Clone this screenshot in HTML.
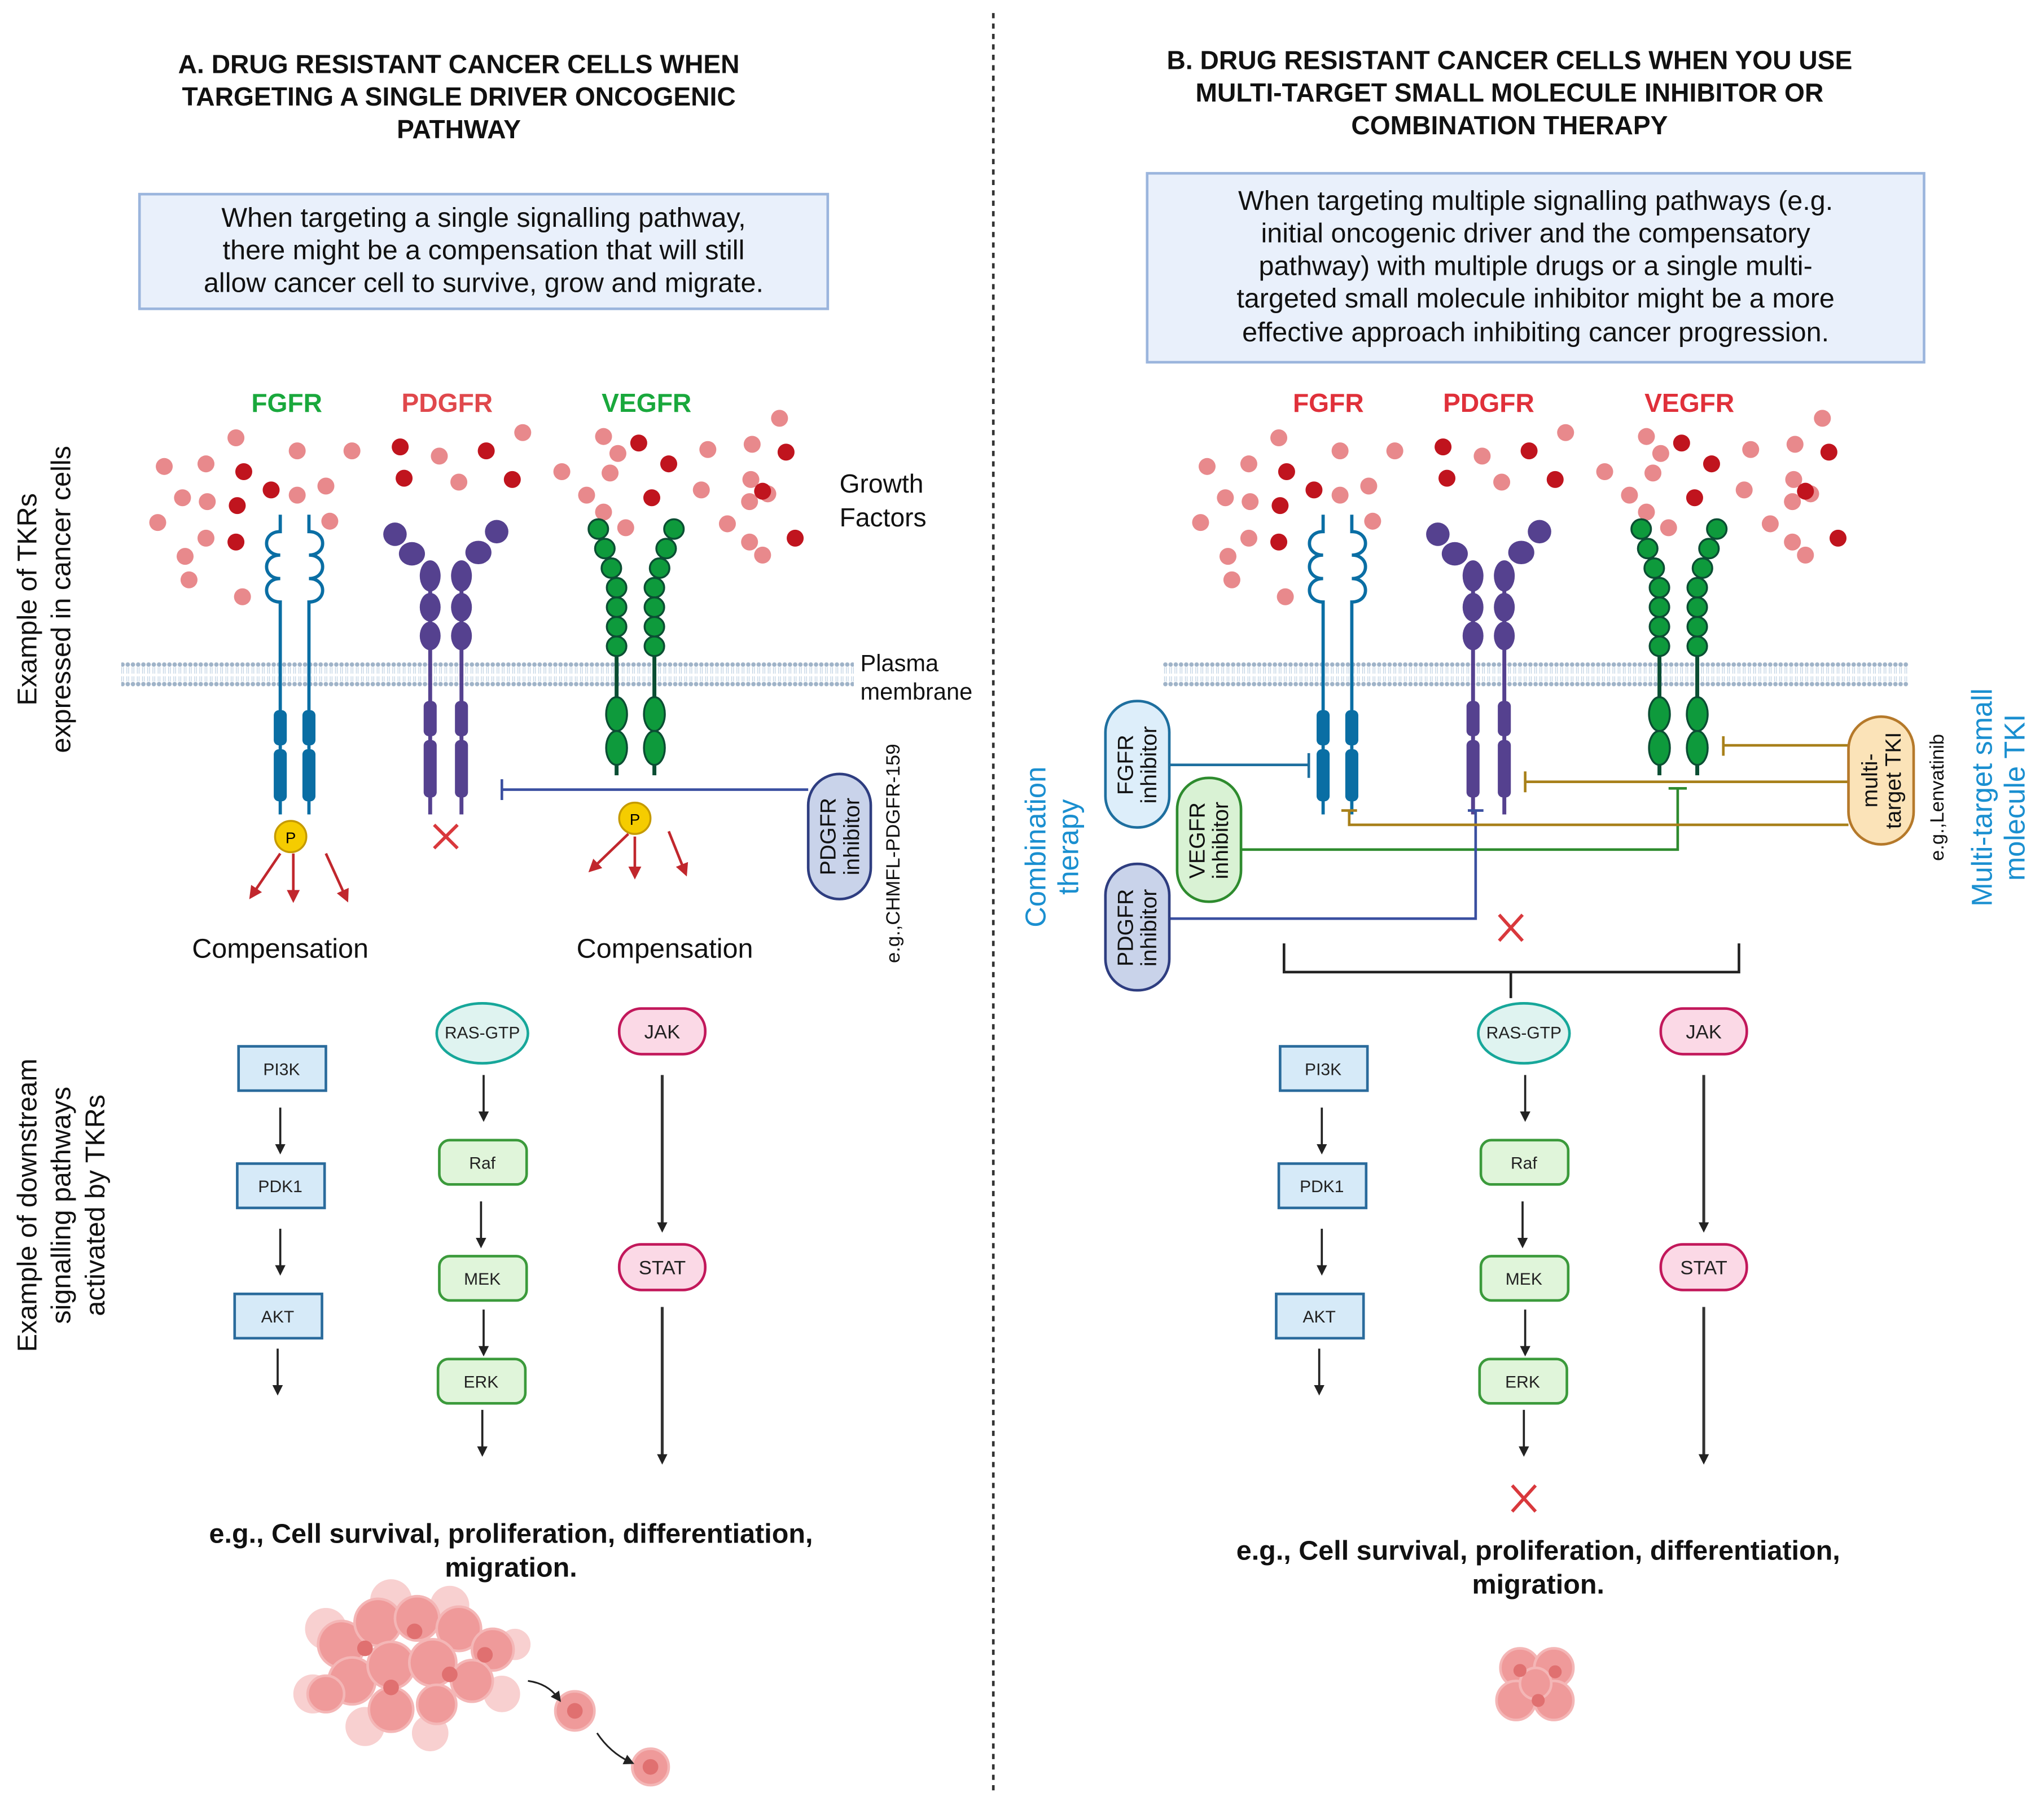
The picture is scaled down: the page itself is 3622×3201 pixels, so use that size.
<!DOCTYPE html>
<html><head><meta charset="utf-8"><style>
html,body{margin:0;padding:0;background:#fff}
svg{display:block}
text{font-family:"Liberation Sans",Arial,sans-serif}
</style></head><body>
<svg width="3622" height="3201" viewBox="0 0 1568 1386" preserveAspectRatio="none" xmlns="http://www.w3.org/2000/svg">
<defs>
<pattern id="mem" x="0" y="508" width="4" height="20" patternUnits="userSpaceOnUse">
<circle cx="2" cy="2" r="1.7" fill="#9fb3c8"/><circle cx="2" cy="17" r="1.7" fill="#9fb3c8"/>
<path d="M1.3 4 V9 M2.7 4 V9 M1.3 11 V15 M2.7 11 V15" stroke="#b9cde0" stroke-width="0.5"/>
</pattern>
<marker id="ah" markerWidth="8" markerHeight="8" refX="4" refY="4" orient="auto" markerUnits="userSpaceOnUse"><path d="M0 0 L8 4 L0 8 Z" fill="#222"/></marker>
<marker id="ar" markerWidth="10" markerHeight="10" refX="5" refY="5" orient="auto" markerUnits="userSpaceOnUse"><path d="M0 0 L10 5 L0 10 Z" fill="#c1272d"/></marker>
<g id="dots">
<g fill="#e8898c">
<circle cx="181" cy="336" r="6.5"/><circle cx="126" cy="358" r="6.5"/><circle cx="158" cy="356" r="6.5"/><circle cx="228" cy="346" r="6.5"/><circle cx="140" cy="382" r="6.5"/><circle cx="159" cy="385" r="6.5"/><circle cx="250" cy="373" r="6.5"/><circle cx="121" cy="401" r="6.5"/><circle cx="158" cy="413" r="6.5"/><circle cx="142" cy="427" r="6.5"/><circle cx="186" cy="458" r="6.5"/><circle cx="145" cy="445" r="6.5"/><circle cx="270" cy="346" r="6.5"/><circle cx="253" cy="400" r="6.5"/><circle cx="228" cy="380" r="6.5"/>
<circle cx="337" cy="350" r="6.5"/><circle cx="352" cy="370" r="6.5"/><circle cx="401" cy="332" r="6.5"/>
<circle cx="463" cy="335" r="6.5"/><circle cx="431" cy="362" r="6.5"/><circle cx="450" cy="380" r="6.5"/><circle cx="468" cy="363" r="6.5"/><circle cx="474" cy="348" r="6.5"/><circle cx="463" cy="393" r="6.5"/><circle cx="480" cy="405" r="6.5"/><circle cx="543" cy="345" r="6.5"/><circle cx="577" cy="341" r="6.5"/><circle cx="576" cy="368" r="6.5"/><circle cx="558" cy="402" r="6.5"/><circle cx="575" cy="385" r="6.5"/><circle cx="589" cy="379" r="6.5"/><circle cx="575" cy="416" r="6.5"/><circle cx="585" cy="426" r="6.5"/><circle cx="598" cy="321" r="6.5"/><circle cx="538" cy="376" r="6.5"/>
</g>
<g fill="#c0141e">
<circle cx="187" cy="362" r="6.5"/><circle cx="208" cy="376" r="6.5"/><circle cx="182" cy="388" r="6.5"/><circle cx="181" cy="416" r="6.5"/>
<circle cx="307" cy="343" r="6.5"/><circle cx="373" cy="346" r="6.5"/><circle cx="310" cy="367" r="6.5"/><circle cx="393" cy="368" r="6.5"/>
<circle cx="490" cy="340" r="6.5"/><circle cx="513" cy="356" r="6.5"/><circle cx="500" cy="382" r="6.5"/><circle cx="603" cy="347" r="6.5"/><circle cx="585" cy="377" r="6.5"/><circle cx="610" cy="413" r="6.5"/>
</g>
</g>
<g id="rec">
<g stroke="#0a6ea4" fill="none" stroke-width="2.5">
<path d="M215 395 V408 c-14 0 -14 18 0 18 c-14 0 -14 18 0 18 c-14 0 -14 18 0 18 V625"/>
<path d="M237 395 V408 c14 0 14 18 0 18 c14 0 14 18 0 18 c14 0 14 18 0 18 V625"/>
</g>
<g fill="#0a6ea4"><rect x="210" y="545" width="10" height="27" rx="4"/><rect x="210" y="575" width="10" height="40" rx="4"/><rect x="232" y="545" width="10" height="27" rx="4"/><rect x="232" y="575" width="10" height="40" rx="4"/></g>
<g fill="#55418f">
<path d="M330 450 V625 M354 450 V625" stroke="#55418f" stroke-width="3"/>
<ellipse cx="303" cy="410" rx="9" ry="9"/><ellipse cx="316" cy="425" rx="10" ry="9"/><ellipse cx="330" cy="442" rx="8" ry="12"/><ellipse cx="330" cy="466" rx="8" ry="11"/><ellipse cx="330" cy="488" rx="8" ry="11"/>
<ellipse cx="381" cy="408" rx="9" ry="9"/><ellipse cx="367" cy="424" rx="10" ry="9"/><ellipse cx="354" cy="442" rx="8" ry="12"/><ellipse cx="354" cy="466" rx="8" ry="11"/><ellipse cx="354" cy="488" rx="8" ry="11"/>
<rect x="325" y="538" width="10" height="27" rx="4"/><rect x="325" y="568" width="10" height="44" rx="4"/><rect x="349" y="538" width="10" height="27" rx="4"/><rect x="349" y="568" width="10" height="44" rx="4"/>
</g>
<g fill="#0e9a3c" stroke="#0b4e33" stroke-width="1.5">
<path d="M473 500 V595 M502 500 V595" stroke-width="3"/>
<circle cx="459" cy="406" r="7.5"/><circle cx="464" cy="421" r="7.5"/><circle cx="469" cy="436" r="7.5"/><circle cx="473" cy="451" r="7.5"/><circle cx="473" cy="466" r="7.5"/><circle cx="473" cy="481" r="7.5"/><circle cx="473" cy="496" r="7.5"/>
<circle cx="517" cy="406" r="7.5"/><circle cx="511" cy="421" r="7.5"/><circle cx="506" cy="436" r="7.5"/><circle cx="502" cy="451" r="7.5"/><circle cx="502" cy="466" r="7.5"/><circle cx="502" cy="481" r="7.5"/><circle cx="502" cy="496" r="7.5"/>
<ellipse cx="473" cy="548" rx="8" ry="13"/><ellipse cx="473" cy="574" rx="8" ry="13"/><ellipse cx="502" cy="548" rx="8" ry="13"/><ellipse cx="502" cy="574" rx="8" ry="13"/>
</g>
</g>
<g id="down">
<g font-size="13" text-anchor="middle" fill="#222">
<rect x="183" y="803" width="67" height="34" fill="#d6eaf8" stroke="#2a6b9c" stroke-width="2"/><text x="216" y="825">PI3K</text>
<rect x="182" y="893" width="67" height="34" fill="#d6eaf8" stroke="#2a6b9c" stroke-width="2"/><text x="215" y="915">PDK1</text>
<rect x="180" y="993" width="67" height="34" fill="#d6eaf8" stroke="#2a6b9c" stroke-width="2"/><text x="213" y="1015">AKT</text>
<ellipse cx="370" cy="793" rx="35" ry="23" fill="#dff3f0" stroke="#17a79a" stroke-width="2"/><text x="370" y="797">RAS-GTP</text>
<rect x="337" y="875" width="67" height="34" rx="8" fill="#e0f5da" stroke="#3b9a3b" stroke-width="2"/><text x="370" y="897">Raf</text>
<rect x="337" y="964" width="67" height="34" rx="8" fill="#e0f5da" stroke="#3b9a3b" stroke-width="2"/><text x="370" y="986">MEK</text>
<rect x="336" y="1043" width="67" height="34" rx="8" fill="#e0f5da" stroke="#3b9a3b" stroke-width="2"/><text x="369" y="1065">ERK</text>
<rect x="475" y="774" width="66" height="35" rx="17" fill="#fbd9e6" stroke="#c2185b" stroke-width="2"/><text x="508" y="797" font-size="15">JAK</text>
<rect x="475" y="955" width="66" height="35" rx="17" fill="#fbd9e6" stroke="#c2185b" stroke-width="2"/><text x="508" y="978" font-size="15">STAT</text>
</g>
<g stroke="#222" stroke-width="1.6" marker-end="url(#ah)">
<line x1="215" y1="850" x2="215" y2="882"/><line x1="215" y1="943" x2="215" y2="975"/><line x1="213" y1="1035" x2="213" y2="1067"/>
<line x1="371" y1="825" x2="371" y2="857"/><line x1="369" y1="922" x2="369" y2="954"/><line x1="371" y1="1005" x2="371" y2="1037"/><line x1="370" y1="1082" x2="370" y2="1114"/>
</g>
<g stroke="#333" stroke-width="2.2" marker-end="url(#ah)">
<line x1="508" y1="825" x2="508" y2="942"/><line x1="508" y1="1003" x2="508" y2="1120"/>
</g>
</g>
</defs>

<line x1="762" y1="10" x2="762" y2="1375" stroke="#333" stroke-width="2" stroke-dasharray="4,4"/>

<g font-weight="bold" font-size="20" text-anchor="middle" fill="#111">
<text x="352" y="56">A. DRUG RESISTANT CANCER CELLS WHEN</text>
<text x="352" y="81">TARGETING A SINGLE DRIVER ONCOGENIC</text>
<text x="352" y="106">PATHWAY</text>
<text x="1158" y="53">B. DRUG RESISTANT CANCER CELLS WHEN YOU USE</text>
<text x="1158" y="78">MULTI-TARGET SMALL MOLECULE INHIBITOR OR</text>
<text x="1158" y="103">COMBINATION THERAPY</text>
</g>
<rect x="107" y="149" width="528" height="88" fill="#e9f0fb" stroke="#9bb5dd" stroke-width="2"/>
<rect x="880" y="133" width="596" height="145" fill="#e9f0fb" stroke="#9bb5dd" stroke-width="2"/>
<g font-size="21" text-anchor="middle" fill="#111">
<text x="371" y="174">When targeting a single signalling pathway,</text>
<text x="371" y="199">there might be a compensation that will still</text>
<text x="371" y="224">allow cancer cell to survive, grow and migrate.</text>
<text x="1178" y="161">When targeting multiple signalling pathways (e.g.</text>
<text x="1178" y="186">initial oncogenic driver and the compensatory</text>
<text x="1178" y="211">pathway) with multiple drugs or a single multi-</text>
<text x="1178" y="236">targeted small molecule inhibitor might be a more</text>
<text x="1178" y="262">effective approach inhibiting cancer progression.</text>
</g>

<g font-weight="bold" font-size="20" text-anchor="middle">
<text x="220" y="316" fill="#19a83c">FGFR</text><text x="343" y="316" fill="#e0484c">PDGFR</text><text x="496" y="316" fill="#19a83c">VEGFR</text>
<text x="1019" y="316" fill="#e0303a">FGFR</text><text x="1142" y="316" fill="#e0303a">PDGFR</text><text x="1296" y="316" fill="#e0303a">VEGFR</text>
</g>
<g font-size="20" fill="#111"><text x="644" y="378">Growth</text><text x="644" y="404">Factors</text>
<text x="660" y="515" font-size="18">Plasma</text><text x="660" y="537" font-size="18">membrane</text></g>

<use href="#dots"/>
<g transform="translate(800,0)"><use href="#dots"/></g>
<rect x="93" y="508" width="562" height="20" fill="url(#mem)"/>
<rect x="892" y="508" width="572" height="20" fill="url(#mem)"/>
<use href="#rec"/>
<g transform="translate(800,0)"><use href="#rec"/></g>

<g stroke="#c1272d" stroke-width="2" marker-end="url(#ar)">
<line x1="215" y1="655" x2="194" y2="686"/><line x1="225" y1="655" x2="225" y2="688"/><line x1="250" y1="655" x2="265" y2="688"/>
<line x1="482" y1="640" x2="455" y2="666"/><line x1="487" y1="642" x2="487" y2="670"/><line x1="513" y1="638" x2="525" y2="668"/>
</g>
<circle cx="223" cy="642" r="12" fill="#f5cc00" stroke="#c59a00" stroke-width="1.5"/><text x="223" y="647" font-size="12" text-anchor="middle">P</text>
<circle cx="487" cy="628" r="12" fill="#f5cc00" stroke="#c59a00" stroke-width="1.5"/><text x="487" y="633" font-size="12" text-anchor="middle">P</text>
<path d="M333 633 L351 651 M351 633 L333 651" stroke="#d9383c" stroke-width="2.5"/>
<path d="M620 606 H385 M385 598 V614" stroke="#3a4fa0" stroke-width="2"/>
<rect x="620" y="594" width="48" height="96" rx="24" fill="#c9d3ea" stroke="#2e3d80" stroke-width="2"/>
<g font-size="17" text-anchor="middle" fill="#111">
<text transform="translate(641,642) rotate(-90)">PDGFR</text><text transform="translate(659,642) rotate(-90)">inhibitor</text>
<text transform="translate(690,655) rotate(-90)" font-size="15">e.g.,CHMFL-PDGFR-159</text>
</g>
<g font-size="21" text-anchor="middle" fill="#111"><text x="215" y="735">Compensation</text><text x="510" y="735">Compensation</text></g>

<g font-size="21" text-anchor="middle" fill="#111">
<text transform="translate(28,460) rotate(-90)">Example of TKRs</text>
<text transform="translate(54,460) rotate(-90)">expressed in cancer cells</text>
<text transform="translate(28,925) rotate(-90)">Example of downstream</text>
<text transform="translate(54,925) rotate(-90)">signalling pathways</text>
<text transform="translate(80,925) rotate(-90)">activated by TKRs</text>
</g>

<use href="#down"/>
<g transform="translate(799,0)"><use href="#down"/></g>

<g font-weight="bold" font-size="21" text-anchor="middle" fill="#111">
<text x="392" y="1184">e.g., Cell survival, proliferation, differentiation,</text>
<text x="392" y="1210">migration.</text>
<text x="1180" y="1197">e.g., Cell survival, proliferation, differentiation,</text>
<text x="1180" y="1223">migration.</text>
</g>

<g>
<g fill="#f8d0d0">
<circle cx="250" cy="1250" r="16"/><circle cx="300" cy="1228" r="16"/><circle cx="345" cy="1232" r="15"/><circle cx="240" cy="1300" r="15"/><circle cx="280" cy="1325" r="15"/><circle cx="330" cy="1330" r="14"/><circle cx="385" cy="1300" r="14"/><circle cx="395" cy="1262" r="12"/>
</g>
<g fill="#ef9a9a" stroke="#f4b6b6" stroke-width="2">
<circle cx="262" cy="1262" r="18"/><circle cx="290" cy="1245" r="18"/><circle cx="320" cy="1242" r="17"/><circle cx="352" cy="1250" r="17"/><circle cx="378" cy="1266" r="16"/>
<circle cx="270" cy="1290" r="18"/><circle cx="300" cy="1278" r="18"/><circle cx="332" cy="1276" r="18"/><circle cx="362" cy="1290" r="16"/><circle cx="300" cy="1312" r="17"/><circle cx="335" cy="1308" r="15"/><circle cx="250" cy="1300" r="14"/>
<circle cx="441" cy="1313" r="15"/><circle cx="499" cy="1356" r="14"/>
</g>
<g fill="#e07070"><circle cx="280" cy="1265" r="6"/><circle cx="318" cy="1252" r="6"/><circle cx="345" cy="1285" r="6"/><circle cx="300" cy="1295" r="6"/><circle cx="372" cy="1270" r="6"/><circle cx="441" cy="1313" r="6"/><circle cx="499" cy="1356" r="6"/></g>
<path d="M405 1290 Q420 1292 428 1303" stroke="#222" fill="none" stroke-width="1.3" marker-end="url(#ah)"/>
<path d="M458 1330 Q468 1345 483 1352" stroke="#222" fill="none" stroke-width="1.3" marker-end="url(#ah)"/>
</g>
<g fill="#ef9a9a" stroke="#f4b6b6" stroke-width="2">
<circle cx="1166" cy="1280" r="15"/><circle cx="1192" cy="1280" r="15"/><circle cx="1163" cy="1305" r="15"/><circle cx="1192" cy="1305" r="15"/><circle cx="1178" cy="1292" r="12"/>
</g>
<g fill="#e07070"><circle cx="1166" cy="1282" r="5"/><circle cx="1193" cy="1283" r="5"/><circle cx="1180" cy="1305" r="5"/></g>

<g stroke-width="2" fill="none">
<path d="M897 587 H1004 M1004 578 V597" stroke="#1e6f9f"/>
<path d="M952 652 H1287 V605 M1280 605 H1294" stroke="#2e8b2e"/>
<path d="M897 705 H1132 V622 M1126 622 H1138" stroke="#3a4fa0"/>
<path d="M1418 572 H1322 M1322 565 V580" stroke="#a8801a"/>
<path d="M1418 600 H1170 M1170 592 V608" stroke="#a8801a"/>
<path d="M1418 633 H1035 V622 M1029 622 H1041" stroke="#a8801a"/>
</g>
<rect x="848" y="538" width="49" height="97" rx="24" fill="#ddeefa" stroke="#1e6f9f" stroke-width="2"/>
<rect x="903" y="597" width="49" height="95" rx="24" fill="#d9f2d4" stroke="#2e8b2e" stroke-width="2"/>
<rect x="848" y="663" width="49" height="97" rx="24" fill="#c9d3ea" stroke="#2e3d80" stroke-width="2"/>
<rect x="1418" y="550" width="50" height="98" rx="25" fill="#fbe3b8" stroke="#b5792a" stroke-width="2"/>
<g font-size="17" text-anchor="middle" fill="#111">
<text transform="translate(869,587) rotate(-90)">FGFR</text><text transform="translate(887,587) rotate(-90)">inhibitor</text>
<text transform="translate(924,645) rotate(-90)">VEGFR</text><text transform="translate(942,645) rotate(-90)">inhibitor</text>
<text transform="translate(869,712) rotate(-90)">PDGFR</text><text transform="translate(887,712) rotate(-90)">inhibitor</text>
<text transform="translate(1440,599) rotate(-90)">multi-</text><text transform="translate(1458,599) rotate(-90)">target TKI</text>
<text transform="translate(1491,612) rotate(-90)" font-size="15">e.g.,Lenvatinib</text>
</g>
<g font-size="22" text-anchor="middle" fill="#1a8fd0">
<text transform="translate(802,650) rotate(-90)">Combination</text><text transform="translate(827,650) rotate(-90)">therapy</text>
<text transform="translate(1528,612) rotate(-90)">Multi-target small</text><text transform="translate(1553,612) rotate(-90)">molecule TKI</text>
</g>
<path d="M1150 702 L1168 722 M1168 702 L1150 722" stroke="#d9383c" stroke-width="2.5"/>
<path d="M985 724 V746 H1334 V724 M1159 746 V766" stroke="#222" stroke-width="2" fill="none"/>
<path d="M1160 1140 L1178 1160 M1178 1140 L1160 1160" stroke="#d9383c" stroke-width="2.5"/>
</svg>
</body></html>
